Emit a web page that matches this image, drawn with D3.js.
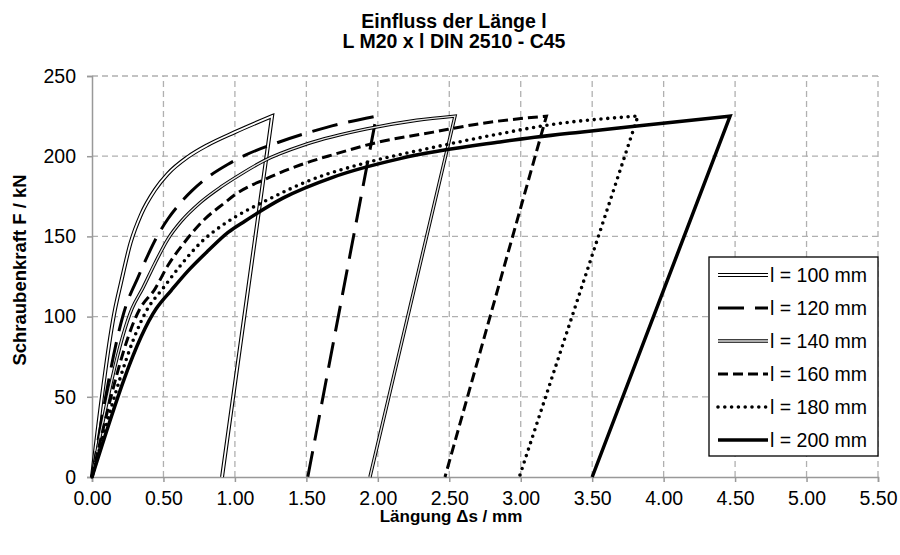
<!DOCTYPE html>
<html>
<head>
<meta charset="utf-8">
<script src="https://cdn.jsdelivr.net/npm/d3@7"></script>
<style>
  body { margin: 0; background: #fff; }
  text { font-family: "Liberation Sans", Arial, sans-serif; }
</style>
</head>
<body>
<div id="chart"></div>
<script>
// Curve data: [Längung mm, Kraft kN], loading curve then unloading line
const l100 = [[0,0],[0.16,104],[0.20,120],[0.27,146],[0.345,164],[0.44,179],[0.53,189],[0.67,199.5],[0.81,207],[1.0,215],[1.26,225],[0.91,0]];
const l120 = [[0,0],[0.235,106],[0.322,124.5],[0.392,138.5],[0.45,149],[0.532,161],[0.625,171.5],[0.70,178.5],[0.812,187],[0.952,195],[1.069,200.5],[1.316,209],[1.642,218],[1.99,225],[1.51,0]];
const l140 = [[0,0],[0.28,105],[0.357,118],[0.439,133],[0.532,148.5],[0.625,159.5],[0.756,171],[0.905,181],[1.045,189],[1.2,197],[1.5,207.5],[1.922,217],[2.272,222.4],[2.54,225],[1.945,0]];
const l160 = [[0,0],[0.336,105],[0.439,117],[0.532,132],[0.649,146.5],[0.78,160],[0.929,171],[1.0,176],[1.222,186],[1.456,194.5],[1.689,201],[1.992,208.5],[2.388,215],[2.715,220.3],[3.18,225],[2.47,0]];
const l180 = [[0,0],[0.39,105],[0.50,118],[0.625,132.5],[0.765,146.5],[0.905,156.5],[1.0,162],[1.222,172.5],[1.526,185],[1.922,196],[2.388,205.5],[2.855,214],[3.182,219.3],[3.82,225],[2.99,0]];
const l200 = [[0,0],[0.45,105],[0.555,116.4],[0.672,128.5],[0.812,141],[0.952,152.5],[1.069,159.5],[1.339,174],[1.689,187],[2.155,198.5],[2.855,208.9],[3.415,215],[3.88,219.5],[4.465,225],[3.5,0]];

const seriesNames = ["l = 100 mm", "l = 120 mm", "l = 140 mm", "l = 160 mm", "l = 180 mm", "l = 200 mm"];
const seriesData = [l100, l120, l140, l160, l180, l200];
const xTicks = [0, 0.5, 1, 1.5, 2, 2.5, 3, 3.5, 4, 4.5, 5, 5.5];
const yTicks = [0, 50, 100, 150, 200, 250];

// Line styles per series
const styles = [
    {type: "double", outer: 4, inner: 1.8, innerColor: "#fff"},
    {type: "dash", width: 3, dash: "26,11"},
    {type: "double", outer: 3.4, inner: 1.4, innerColor: "#e6e6e6"},
    {type: "dash", width: 3, dash: "10,5"},
    {type: "dot", width: 3.6, dash: "0,6.8"},
    {type: "solid", width: 3.5}
];

const width = 900, height = 555;
const margin = {top: 76, bottom: 78, left: 92, right: 22};

const svg = d3.select("#chart")
    .append("svg")
    .attr("width", width)
    .attr("height", height)
    .style("background", "#fff");

const xScale = d3.scaleLinear()
    .domain([0, 5.5])
    .range([margin.left, width - margin.right]);

const yScale = d3.scaleLinear()
    .domain([0, 250])
    .range([height - margin.bottom, margin.top]);

// Grid lines
svg.append("g")
    .selectAll("line")
    .data(xTicks.slice(1))
    .enter().append("line")
    .attr("x1", d => xScale(d)).attr("x2", d => xScale(d))
    .attr("y1", yScale(0)).attr("y2", yScale(250))
    .attr("stroke", "#b0b0b0").attr("stroke-width", 1.3)
    .attr("stroke-dasharray", "6,4");

svg.append("g")
    .selectAll("line")
    .data(yTicks.slice(1))
    .enter().append("line")
    .attr("x1", xScale(0)).attr("x2", xScale(5.5))
    .attr("y1", d => yScale(d)).attr("y2", d => yScale(d))
    .attr("stroke", "#b0b0b0").attr("stroke-width", 1.3)
    .attr("stroke-dasharray", "6,4");

// Axes
const xAxis = svg.append("g")
    .attr("transform", `translate(0,${yScale(0)})`)
    .call(d3.axisBottom(xScale).tickValues(xTicks).tickFormat(d3.format(".2f")).tickSize(5).tickPadding(9));

const yAxis = svg.append("g")
    .attr("transform", `translate(${xScale(0)},0)`)
    .call(d3.axisLeft(yScale).tickValues(yTicks).tickSize(5).tickPadding(11));

[xAxis, yAxis].forEach(ax => {
    ax.select(".domain").attr("stroke", "#999").attr("stroke-width", 1.5);
    ax.selectAll(".tick line").attr("stroke", "#999").attr("stroke-width", 1.5);
    ax.selectAll(".tick text")
        .style("font-family", "'Liberation Sans', Arial, sans-serif")
        .style("font-size", "19.5px")
        .attr("fill", "#000");
});

// Build path: smooth loading part, straight unloading line
const loadLine = d3.line()
    .x(d => xScale(d[0]))
    .y(d => yScale(d[1]))
    .curve(d3.curveMonotoneX);

function curvePath(pts) {
    const load = pts.slice(0, pts.length - 1);
    const last = pts[pts.length - 1];
    return loadLine(load) + `L${xScale(last[0])},${yScale(last[1])}`;
}

function drawStyled(g, d, st) {
    if (st.type === "double") {
        g.append("path").attr("d", d).attr("fill", "none")
            .attr("stroke", "#000").attr("stroke-width", st.outer).attr("stroke-linejoin", "miter");
        g.append("path").attr("d", d).attr("fill", "none")
            .attr("stroke", st.innerColor).attr("stroke-width", st.inner).attr("stroke-linejoin", "miter");
    } else if (st.type === "dot") {
        g.append("path").attr("d", d).attr("fill", "none")
            .attr("stroke", "#000").attr("stroke-width", st.width)
            .attr("stroke-linecap", "round").attr("stroke-dasharray", st.dash);
    } else {
        g.append("path").attr("d", d).attr("fill", "none")
            .attr("stroke", "#000").attr("stroke-width", st.width)
            .attr("stroke-dasharray", st.dash || null);
    }
}

const curves = svg.append("g");
seriesData.forEach((pts, i) => {
    drawStyled(curves.append("g"), curvePath(pts), styles[i]);
});

// Legend
const legendX = 709, legendY = 257, legendW = 169, legendH = 199;
svg.append("rect")
    .attr("x", legendX).attr("y", legendY)
    .attr("width", legendW).attr("height", legendH)
    .attr("fill", "#fff").attr("stroke", "#000").attr("stroke-width", 1.3);

const legend = svg.selectAll(".legend")
    .data(seriesNames)
    .enter().append("g")
    .attr("class", "legend")
    .attr("transform", (d, i) => `translate(0,${legendY + 18 + i * 33})`);

legend.each(function(d, i) {
    drawStyled(d3.select(this), "M718,0L768,0", styles[i]);
});

legend.append("text")
    .attr("x", 770)
    .attr("y", 0)
    .attr("dy", "0.35em")
    .style("font-size", "19.5px")
    .text(d => d);

// Title
svg.append("text")
    .attr("x", 454).attr("y", 27.5)
    .style("text-anchor", "middle")
    .style("font-size", "19.5px")
    .style("font-weight", "bold")
    .text("Einfluss der Länge l");

svg.append("text")
    .attr("x", 454).attr("y", 48)
    .style("text-anchor", "middle")
    .style("font-size", "19.5px")
    .style("font-weight", "bold")
    .text("L M20 x l DIN 2510 - C45");

// Axis labels
svg.append("text")
    .attr("x", 451).attr("y", 522)
    .style("text-anchor", "middle")
    .style("font-size", "17px")
    .style("font-weight", "bold")
    .text("Längung Δs / mm");

svg.append("text")
    .attr("x", -270).attr("y", 26)
    .attr("transform", "rotate(-90)")
    .style("text-anchor", "middle")
    .style("font-size", "18.5px")
    .style("font-weight", "bold")
    .text("Schraubenkraft F / kN");
</script>
</body>
</html>
